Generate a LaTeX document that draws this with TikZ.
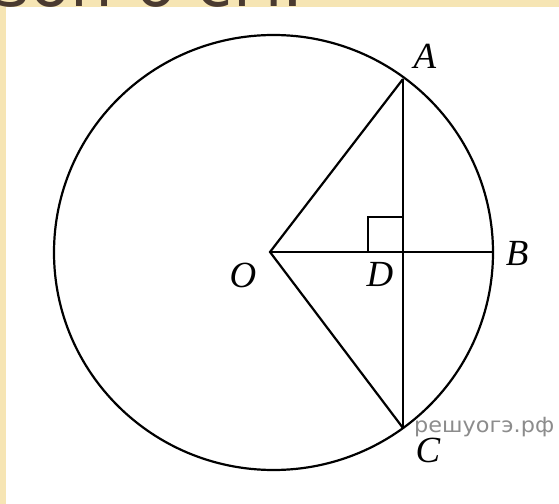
\documentclass[tikz,border=0pt]{standalone}
\usepackage{fontspec}
\newfontfamily\topfont{DejaVu Sans}
\newfontfamily\lblfont{Liberation Serif}
\newfontfamily\wmfont{DejaVu Sans}
\definecolor{beige}{RGB}{246,229,180}
\definecolor{brownt}{RGB}{74,58,48}
\definecolor{wmgray}{RGB}{140,140,140}
\begin{document}
\begin{tikzpicture}[x=1bp,y=-1bp,
  geo/.style={line width=2.2bp,black},
  lbl/.style={inner sep=0pt,font=\lblfont\itshape\fontsize{37}{37}\selectfont}]
\useasboundingbox (0,0) rectangle (559,504);
\fill[beige] (-2,-2) rectangle (561,506);
\node[anchor=base west,inner sep=0pt,text=brownt,font=\topfont\fontsize{66}{66}\selectfont] (title) at (-5,6.5) {зон 6 см.};
\fill[white] (6,7) rectangle (561,506);
% points
\coordinate (O) at (270,252);
\coordinate (A) at (403,79);
\coordinate (B) at (493,252);
\coordinate (C) at (403,428);
\coordinate (D) at (403,252);
\coordinate (CC) at (273.5,252.5);
\draw[geo] (CC) ellipse [x radius=219.5, y radius=217.5];
\draw[geo] (A) -- (O) -- (C);
\draw[geo] (O) -- (B);
\draw[geo] (A) -- (C);
\draw[geo] ([xshift=-35bp]D) -- ++(0,-35) -- ++(35,0);
% labels
\node[lbl] (lA) at (425,56) {A};
\node[lbl] (lB) at (517,253) {B};
\node[lbl] (lO) at (243,275) {O};
\node[lbl] (lD) at (380,274) {D};
\node[lbl] (lC) at (428,450) {C};
\node[anchor=base west,inner sep=0pt,text=wmgray,font=\wmfont\fontsize{21}{21}\selectfont,xscale=1.07] (wm) at (414,432) {решуогэ.рф};
\end{tikzpicture}
\end{document}
